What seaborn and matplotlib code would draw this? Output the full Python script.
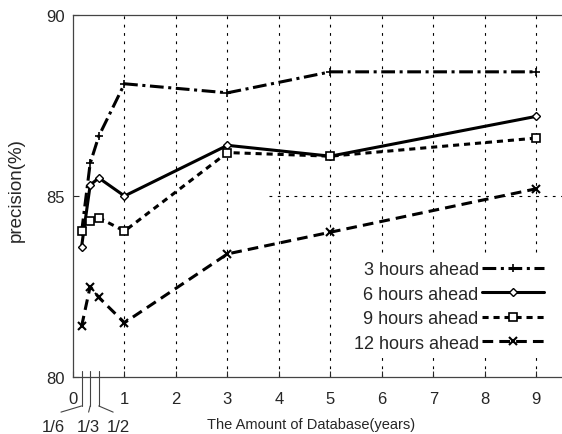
import numpy as np
import pandas as pd
import seaborn as sns
import matplotlib.pyplot as plt

# amount of database (years)
years = [1/6, 1/3, 1/2, 1, 3, 5, 9]
xticks = [0, 1, 2, 3, 4, 5, 6, 7, 8, 9]
frac_labels = ['1/6', '1/3', '1/2']

h3 = [84.0, 85.9, 86.65, 88.1, 87.85, 88.43, 88.43]
h6 = [83.6, 85.3, 85.5, 85.0, 86.4, 86.1, 87.2]
h9 = [84.03, 84.3, 84.4, 84.03, 86.2, 86.1, 86.6]
h12 = [81.4, 82.5, 82.2, 81.5, 83.4, 84.0, 85.2]

series = {
    '3 hours ahead': h3,
    '6 hours ahead': h6,
    '9 hours ahead': h9,
    '12 hours ahead': h12,
}

sns.set_style('ticks')
plt.rcParams['font.family'] = ['Liberation Sans', 'DejaVu Sans']

fig = plt.figure(figsize=(5.62, 4.35), dpi=100)
ax = fig.add_axes([73/562, 57/435, 489/562, 362/435])

styles = {
    '3 hours ahead': dict(marker='+', ms=6, mew=1.2, dashes=(4.5, 1.5, 1, 1.5)),
    '6 hours ahead': dict(marker='D', ms=4.5, mew=1.0, mfc='white', dashes=()),
    '9 hours ahead': dict(marker='s', ms=6, mew=1.2, mfc='white', dashes=(2, 1.6)),
    '12 hours ahead': dict(marker='x', ms=6, mew=1.5, dashes=(3.5, 2)),
}

for name, vals in series.items():
    df = pd.DataFrame({'x': years, 'y': vals})
    st = styles[name]
    kw = dict(marker=st['marker'], markersize=st['ms'], markeredgewidth=st['mew'],
              markeredgecolor='black', markerfacecolor=st.get('mfc', 'black'))
    sns.lineplot(data=df, x='x', y='y', ax=ax, color='black', linewidth=2.2,
                 label=name, **kw)
    line = ax.get_lines()[-1]
    if st['dashes']:
        line.set_dashes(st['dashes'])

ax.set_xlim(0, 9.5)
ax.set_ylim(80, 90)
ax.set_xticks(xticks)
ax.set_xticklabels([str(t) for t in xticks])
ax.set_yticks([80, 85, 90])
ax.tick_params(direction='in', length=4, labelsize=12, width=0.8)
ax.tick_params(axis='x', pad=10)
ax.tick_params(axis='y', pad=6)

for t in xticks[1:]:
    ax.axvline(t, color='black', lw=0.8, ls=(0, (2.5, 5)), zorder=0)
ax.axhline(85, xmin=0.4, color='black', lw=0.8, ls=(0, (2.5, 5)), zorder=0)

for s in ['left', 'bottom', 'top']:
    ax.spines[s].set_color('#444444')
    ax.spines[s].set_linewidth(0.9)
ax.spines['right'].set_visible(False)

# fractional-year markers below the axis
trans = ax.get_xaxis_transform()
offsets = [-0.4, -0.03, 0.28]
for xv, lab, off in zip(years[:3], frac_labels, offsets):
    ax.plot([xv, xv], [0.017, -0.08], color='#444444', lw=0.8, transform=trans, clip_on=False)
    ax.plot([xv, xv + off], [-0.08, -0.097], color='#444444', lw=0.8, transform=trans, clip_on=False)
    ax.text(xv + off * 1.35, -0.137, lab, transform=trans, ha='center', va='center', fontsize=12)

ax.set_xlabel('The Amount of Database(years)', fontsize=10.5)
ax.xaxis.set_label_coords(0.487, -0.13, transform=ax.transAxes)
ax.xaxis.label.set_va('center')
ax.set_ylabel('precision(%)', fontsize=13.5)
ax.yaxis.set_label_coords(-0.115, 0.52, transform=ax.transAxes)
ax.yaxis.label.set_va('center')

handles, labels = ax.get_legend_handles_labels()
leg = ax.legend(handles, labels, loc='lower right', bbox_to_anchor=(0.97, 0.06),
                frameon=True, facecolor='white', edgecolor='none', framealpha=1,
                fancybox=False, markerfirst=False, fontsize=13, handlelength=3.4,
                handletextpad=0.2, labelspacing=0.42, borderaxespad=0, borderpad=0.2)

fig.savefig('out.png', dpi=100)
